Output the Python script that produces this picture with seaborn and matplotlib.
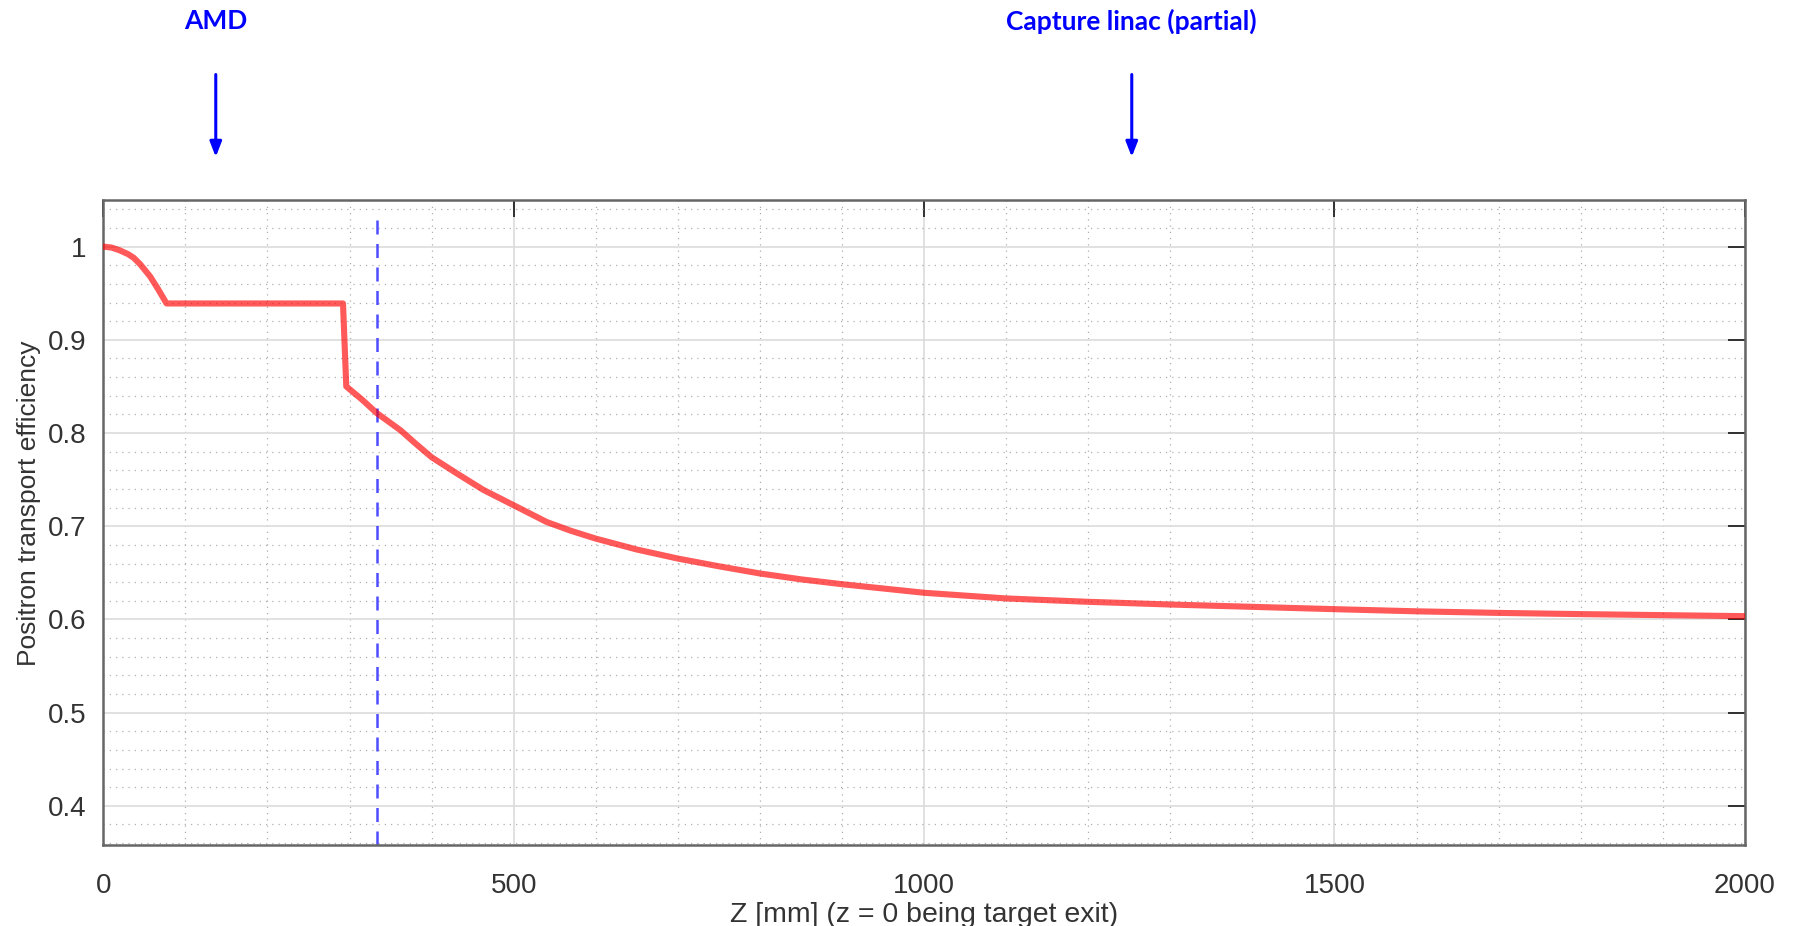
import matplotlib
matplotlib.use("Agg")
import matplotlib.pyplot as plt
import matplotlib.transforms as mtransforms
from matplotlib.ticker import MultipleLocator
import seaborn as sns

# Position along the line (mm) and positron transport efficiency
z_mm = [0, 10, 20, 30, 37, 45, 57, 67, 77, 150, 250, 292, 296, 315, 333, 362, 380,
        400, 431, 463, 500, 540, 570, 600, 650, 700, 750, 800, 850, 900, 1000,
        1100, 1200, 1300, 1400, 1500, 1600, 1700, 1800, 1900, 2000]
eff = [1.000, 0.999, 0.996, 0.992, 0.988, 0.981, 0.968, 0.954, 0.939, 0.939, 0.939,
       0.939, 0.850, 0.836, 0.8215, 0.803, 0.789, 0.774, 0.7565, 0.739, 0.7225,
       0.7046, 0.695, 0.6867, 0.675, 0.6653, 0.657, 0.6493, 0.643, 0.6378, 0.6286,
       0.6225, 0.6189, 0.616, 0.6135, 0.611, 0.6087, 0.607, 0.6057, 0.6046, 0.6035]

# markers above the plot
z_marker = 333
labels = ["AMD", "Capture linac (partial)"]
label_z = [137, 1253]

sns.set_style("white")
plt.rcParams['font.family'] = ['Liberation Sans', 'DejaVu Sans']

fig = plt.figure(figsize=(17.97, 9.26), dpi=100)
ax = fig.add_axes([0.0575, 0.0875, 0.9135, 0.6965])

sns.lineplot(x=z_mm, y=eff, ax=ax, color="red", alpha=0.65, linewidth=4.4,
             estimator=None, zorder=3)
ax.axvline(z_marker, ymin=0, ymax=0.982, color="#4d4dff", lw=1.8,
           dashes=(5.6, 3.8), zorder=2)

ax.set_xlim(0, 2000)
ax.set_ylim(0.358, 1.05)
ax.xaxis.set_major_locator(MultipleLocator(500))
ax.xaxis.set_minor_locator(MultipleLocator(100))
ax.yaxis.set_minor_locator(MultipleLocator(0.02))
ax.set_yticks([0.4, 0.5, 0.6, 0.7, 0.8, 0.9, 1.0])
ax.set_yticklabels(["0.4", "0.5", "0.6", "0.7", "0.8", "0.9", "1"])

ax.grid(which="major", color="#dcdcdc", linewidth=1.2, linestyle="-")
ax.grid(which="minor", color="#b0b0b0", linewidth=0.9, linestyle=(0, (1, 4)))
ax.set_axisbelow(True)

ax.tick_params(which="major", direction="in", length=12, width=1.3, color="#222222",
               labelsize=20, labelcolor="#333333", top=True, right=True)
ax.tick_params(axis="y", which="major", pad=12)
ax.tick_params(axis="x", which="major", pad=20)
ax.tick_params(which="minor", length=0)

for s in ax.spines.values():
    s.set_color("#666666")
    s.set_linewidth(1.8)

ax.set_xlabel("Z [mm] (z = 0 being target exit)", fontsize=20.5, color="#333333", labelpad=2)
ax.set_ylabel("Positron transport efficiency", fontsize=19, color="#333333", labelpad=5)
ax.yaxis.label.set_y(0.53)

trans = mtransforms.blended_transform_factory(ax.transData, fig.transFigure)
for lab, zx in zip(labels, label_z):
    ax.text(zx, 0.977, lab, transform=trans, ha="center", va="center",
            fontsize=19, fontweight="bold", color="blue", family=["Lato", "DejaVu Sans"])
    ax.annotate("", xy=(zx, 0.8305), xycoords=trans, xytext=(zx, 0.9195), textcoords=trans,
                arrowprops=dict(arrowstyle="-|>,head_length=0.9,head_width=0.35",
                                color="blue", lw=2.2, shrinkA=0, shrinkB=0),
                annotation_clip=False)

fig.savefig("out.png", dpi=100)
